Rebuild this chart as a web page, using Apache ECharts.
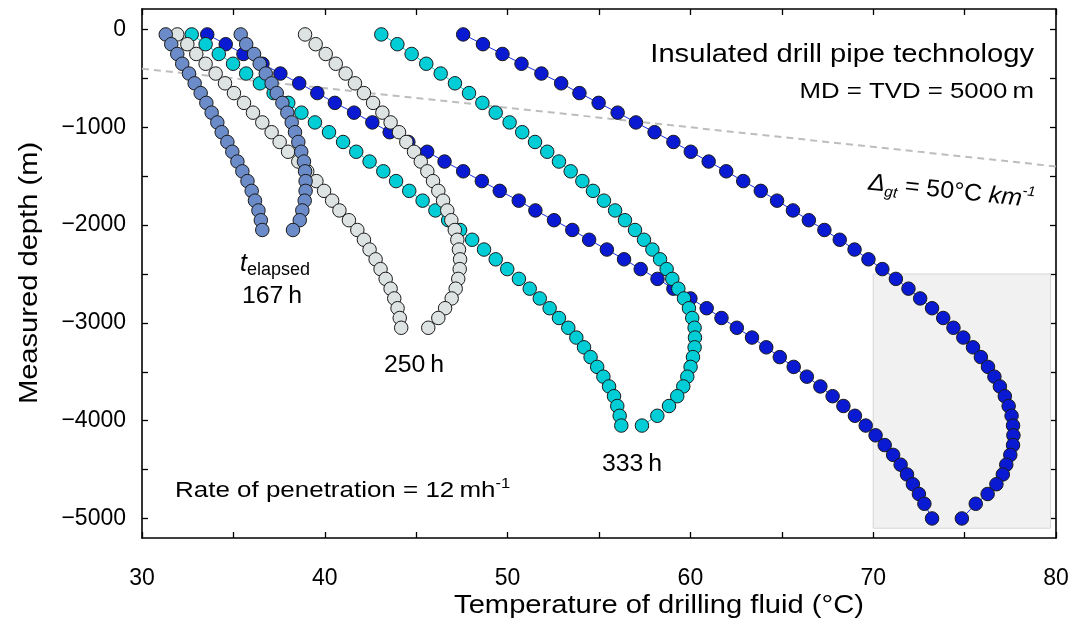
<!DOCTYPE html>
<html>
<head>
<meta charset="utf-8">
<script src="https://cdn.jsdelivr.net/npm/echarts@6/dist/echarts.min.js"></script>
<style>
html,body{margin:0;padding:0;background:#fff;}
#chart{width:1073px;height:631px;}
</style>
</head>
<body>
<div id="chart"></div>
<script>
// ---- data (temperature °C vs measured depth m) ----
const depth167 = [-50,-150,-250,-350,-450,-550,-650,-750,-850,-950,-1050,-1150,-1250,-1350,-1450,-1550,-1650,-1750,-1850,-1950,-2050];
const depth250 = [-50,-150,-250,-350,-450,-550,-650,-750,-850,-950,-1050,-1150,-1250,-1350,-1450,-1550,-1650,-1750,-1850,-1950,-2050,-2150,-2250,-2350,-2450,-2550,-2650,-2750,-2850,-2950,-3050];
const depth333 = [-50,-150,-250,-350,-450,-550,-650,-750,-850,-950,-1050,-1150,-1250,-1350,-1450,-1550,-1650,-1750,-1850,-1950,-2050,-2150,-2250,-2350,-2450,-2550,-2650,-2750,-2850,-2950,-3050,-3150,-3250,-3350,-3450,-3550,-3650,-3750,-3850,-3950,-4050];
const depth417 = [-50,-150,-250,-350,-450,-550,-650,-750,-850,-950,-1050,-1150,-1250,-1350,-1450,-1550,-1650,-1750,-1850,-1950,-2050,-2150,-2250,-2350,-2450,-2550,-2650,-2750,-2850,-2950,-3050,-3150,-3250,-3350,-3450,-3550,-3650,-3750,-3850,-3950,-4050,-4150,-4250,-4350,-4450,-4550,-4650,-4750,-4850,-5000];

const pipe167 = [31.3,31.6,31.93,32.2,32.57,32.88,33.21,33.52,33.81,34.12,34.36,34.67,34.94,35.22,35.49,35.77,36.0,36.18,36.37,36.5,36.58];
const ann167  = [35.4,35.7,36.13,36.44,36.77,37.09,37.37,37.68,37.95,38.19,38.37,38.55,38.71,38.86,38.92,38.95,38.95,38.9,38.77,38.63,38.26];

const pipe250 = [31.93,32.48,32.97,33.48,34.03,34.54,35.03,35.58,36.07,36.58,37.09,37.53,37.99,38.55,39.04,39.54,39.96,40.4,40.8,41.32,41.78,42.14,42.45,42.78,43.05,43.33,43.6,43.8,43.98,44.1,44.18];
const ann250  = [38.92,39.5,40.05,40.6,41.14,41.65,42.14,42.64,43.15,43.6,44.06,44.46,44.88,45.25,45.61,45.92,46.21,46.47,46.7,46.92,47.11,47.25,47.34,47.4,47.38,47.3,47.16,46.94,46.58,46.21,45.66];

const pipe333 = [32.72,33.48,34.2,34.98,35.7,36.45,37.2,38.0,38.72,39.46,40.23,41.0,41.72,42.45,43.2,43.9,44.62,45.35,46.05,46.75,47.4,48.06,48.71,49.35,49.98,50.62,51.21,51.76,52.3,52.81,53.32,53.76,54.18,54.54,54.9,55.24,55.55,55.82,56.0,56.13,56.22];
const ann333  = [43.09,43.97,44.75,45.55,46.34,47.12,47.89,48.62,49.35,50.11,50.8,51.5,52.17,52.81,53.45,54.09,54.67,55.27,55.88,56.42,56.97,57.46,57.92,58.34,58.7,59.01,59.34,59.65,59.92,60.1,60.23,60.25,60.23,60.14,60.01,59.83,59.61,59.28,58.83,58.19,57.35];

const pipe417 = [33.57,34.58,35.55,36.59,37.57,38.6,39.59,40.55,41.6,42.6,43.55,44.57,45.6,46.55,47.57,48.59,49.57,50.61,51.52,52.54,53.54,54.46,55.43,56.37,57.28,58.2,59.07,60.0,60.89,61.7,62.54,63.37,64.15,64.89,65.65,66.37,67.11,67.78,68.37,69.0,69.59,70.13,70.63,71.09,71.5,71.85,72.17,72.5,72.8,73.22];
const ann417  = [47.57,48.65,49.72,50.76,51.85,52.93,53.93,54.98,56.02,57.02,58.04,59.07,60.02,61.0,61.96,62.89,63.85,64.74,65.61,66.48,67.33,68.17,68.98,69.74,70.5,71.24,71.93,72.57,73.22,73.83,74.39,74.93,75.46,75.89,76.28,76.63,76.93,77.2,77.41,77.57,77.65,77.67,77.65,77.5,77.28,77.09,76.74,76.26,75.61,74.85];

// geothermal gradient line (50 °C/km) end points: [T, depth]
const gradientT = [30, 80];
const gradientDepth = [-400, -1400];
// highlighted region [T, depth]
const boxT = [70, 79.7];
const boxDepth = [-2500, -5100];

const yTickLabels = [0,-1000,-2000,-3000,-4000,-5000];
const yTicks = [0,-500,-1000,-1500,-2000,-2500,-3000,-3500,-4000,-4500,-5000];

const FONT = "'Liberation Sans', Arial, sans-serif";
const SX = 1.12; // horizontal stretch of the reference lettering

function pairs(t, d){ return t.map((v,i)=>[v, d[i]]); }

function curve(name, t, d, color, lineColor){
  return {
    name, type:'line', data: pairs(t,d),
    symbol:'circle', symbolSize:13.5,
    itemStyle:{color:color, borderColor:'#1a1a1a', borderWidth:1},
    lineStyle:{color:lineColor||color, width:1},
    emphasis:{disabled:true},
    silent:true
  };
}

function txt(x, y, text, size, align, extra){
  return Object.assign({type:'text', x:x, y:y, scaleX:SX, style:{text:text, fontSize:size, fontFamily:FONT, fill:'#000',
    align:align, verticalAlign:'middle', textAlign:align, textVerticalAlign:'middle'}}, extra||{});
}

const C167 = '#6b8cc8', C250 = '#dde2e2', C333 = '#00cdd6', C417 = '#0a1ad2';

const chart = echarts.init(document.getElementById('chart'), null, {renderer:'canvas'});

const option = {
  animation:false,
  backgroundColor:'#ffffff',
  grid:{left:142, right:17, top:9, bottom:93, containLabel:false},
  xAxis:[{
    type:'value', min:30, max:80, interval:10, position:'bottom',
    axisLine:{show:true, onZero:false, lineStyle:{color:'#000', width:1.6}},
    axisTick:{show:true, inside:true, length:6, lineStyle:{color:'#000', width:1.3}},
    minorTick:{show:true, splitNumber:2, length:6, lineStyle:{color:'#000', width:1.3}},
    splitLine:{show:false},
    axisLabel:{color:'#000', fontSize:23, fontFamily:FONT, margin:29}
  },{
    type:'value', min:30, max:80, interval:10, position:'top',
    axisLine:{show:true, onZero:false, lineStyle:{color:'#000', width:1.6}},
    axisTick:{show:true, inside:true, length:6, lineStyle:{color:'#000', width:1.3}},
    minorTick:{show:true, splitNumber:2, length:6, lineStyle:{color:'#000', width:1.3}},
    splitLine:{show:false}, axisLabel:{show:false}
  }],
  yAxis:[{
    type:'value', min:-5200, max:210, position:'left',
    axisLine:{show:true, onZero:false, lineStyle:{color:'#000', width:1.6}},
    axisTick:{show:true, inside:true, length:6, customValues:yTicks, lineStyle:{color:'#000', width:1.3}},
    splitLine:{show:false},
    axisLabel:{color:'#000', fontSize:23, fontFamily:FONT, margin:16, customValues:yTickLabels,
      formatter:v => v<0 ? '\u2212'+Math.abs(v) : String(v)}
  },{
    type:'value', min:-5200, max:210, position:'right',
    axisLine:{show:true, onZero:false, lineStyle:{color:'#000', width:1.6}},
    axisTick:{show:true, inside:true, length:6, customValues:yTicks, lineStyle:{color:'#000', width:1.3}},
    splitLine:{show:false}, axisLabel:{show:false}
  }],
  series:[
    {
      name:'box', type:'line', data:[], silent:true,
      markArea:{silent:true, itemStyle:{color:'#f1f1f1', borderColor:'#d6d6d6', borderWidth:1},
        data:[[{coord:[boxT[0], boxDepth[0]]},{coord:[boxT[1], boxDepth[1]]}]]}
    },
    {
      name:'gradient', type:'line', data:pairs(gradientT, gradientDepth), symbol:'none', silent:true,
      lineStyle:{color:'#bdbdbd', width:2, type:[7,5]}
    },
    curve('417 pipe', pipe417, depth417, C417, '#1a2ee0'),
    curve('417 ann', ann417, depth417, C417, '#1a2ee0'),
    curve('333 pipe', pipe333, depth333, C333),
    curve('333 ann', ann333, depth333, C333),
    curve('250 pipe', pipe250, depth250, C250, '#c8cccc'),
    curve('250 ann', ann250, depth250, C250, '#c8cccc'),
    curve('167 pipe', pipe167, depth167, C167),
    curve('167 ann', ann167, depth167, C167)
  ],
  graphic:[
    // axis titles
    txt(659, 606, 'Temperature of drilling fluid (°C)', 26, 'center'),
    txt(30, 273, 'Measured depth (m)', 26, 'center', {rotation:Math.PI/2}),
    // annotations
    txt(1034, 55, 'Insulated drill pipe technology', 26, 'right'),
    txt(1034, 92, 'MD = TVD = 5000\u2009m', 21.5, 'right', {scaleX:1.2}),
    {type:'text', x:870, y:168, rotation:-0.105, scaleX:1.04, style:{
      text:'{d|\u0394}{s|gt}{n| = 50°C }{i|km}{p|-1}', fontFamily:FONT, fill:'#000', align:'left', verticalAlign:'top', textAlign:'left', textVerticalAlign:'top',
      rich:{
        d:{fontSize:24, fontStyle:'italic', fontFamily:FONT, lineHeight:30, verticalAlign:'middle'},
        s:{fontSize:15, fontStyle:'italic', fontFamily:FONT, lineHeight:14, verticalAlign:'bottom'},
        n:{fontSize:24, fontFamily:FONT, lineHeight:30, verticalAlign:'middle'},
        i:{fontSize:24, fontStyle:'italic', fontFamily:FONT, lineHeight:30, verticalAlign:'middle'},
        p:{fontSize:14, fontStyle:'italic', fontFamily:FONT, lineHeight:14, verticalAlign:'top'}
      }}},
    {type:'text', x:240, y:249, style:{
      text:'{t|t}{s|elapsed}', fontFamily:FONT, fill:'#000', align:'left', verticalAlign:'top', textAlign:'left', textVerticalAlign:'top',
      rich:{
        t:{fontSize:25, fontStyle:'italic', fontFamily:FONT, lineHeight:30, verticalAlign:'middle'},
        s:{fontSize:18, fontFamily:FONT, lineHeight:18, verticalAlign:'bottom'}
      }}},
    txt(272, 297, '167\u2009h', 23, 'center', {scaleX:1.08}),
    txt(414, 366, '250\u2009h', 23, 'center', {scaleX:1.08}),
    txt(632, 465, '333\u2009h', 23, 'center', {scaleX:1.08}),
    txt(950, 462, '417\u2009h', 23, 'center', {scaleX:1.08}),
    {type:'text', x:175, y:477, scaleX:1.18, style:{
      text:'{n|Rate of penetration = 12\u2009mh}{p|-1}', fontFamily:FONT, fill:'#000', align:'left', verticalAlign:'top', textAlign:'left', textVerticalAlign:'top',
      rich:{
        n:{fontSize:22, fontFamily:FONT, lineHeight:28, verticalAlign:'middle'},
        p:{fontSize:14, fontFamily:FONT, lineHeight:14, verticalAlign:'top'}
      }}}
  ]
};
chart.setOption(option);
</script>
</body>
</html>
